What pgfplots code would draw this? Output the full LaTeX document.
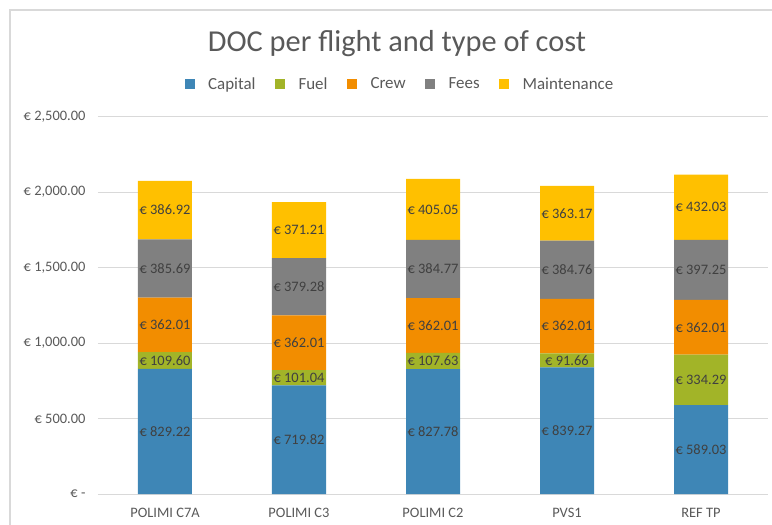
\documentclass[border=0pt]{standalone}
\usepackage{fontspec}
\setmainfont{Carlito}
\usepackage{pgfplots}
\pgfplotsset{compat=1.18}
\definecolor{cCap}{RGB}{62,134,182}
\definecolor{cFuel}{RGB}{162,180,40}
\definecolor{cCrew}{RGB}{242,141,0}
\definecolor{cFees}{RGB}{128,128,128}
\definecolor{cMaint}{RGB}{255,192,0}
\definecolor{gridc}{RGB}{217,217,217}
\definecolor{tickc}{RGB}{89,89,89}
\definecolor{labc}{RGB}{64,64,64}
\begin{document}
\begin{tikzpicture}
\useasboundingbox (-98bp,-31bp) rectangle (674bp,494bp);
\draw[gridc, line width=1.2bp] (-88bp,-31bp) -- (-88bp,484bp) -- (674bp,484bp);
\node[font=\fontsize{30.5}{34}\selectfont, text=tickc] at (299bp,450bp) {DOC per flight and type of cost};
\begin{axis}[
  at={(0,0)}, anchor=south west, scale only axis,
  width=670bp, height=377.5bp,
  ybar stacked, bar width=54bp,
  xmin=-0.5, xmax=4.5, ymin=0, ymax=2500,
  xtick={0,1,2,3,4},
  xticklabels={POLIMI C7A, POLIMI C3, POLIMI C2, PVS1, REF TP},
  ytick={0,500,1000,1500,2000,2500},
  yticklabels={€ -, € 500.00, {€ 1,000.00}, {€ 1,500.00}, {€ 2,000.00}, {€ 2,500.00}},
  ymajorgrids, grid style={draw=gridc, line width=0.9bp},
  axis line style={draw=none}, major tick length=0pt,
  tick label style={font=\fontsize{14.5}{17}\selectfont, text=tickc},
  yticklabel style={xshift=-9bp},
  xticklabel style={yshift=-11bp},
  point meta=explicit symbolic,
  nodes near coords={€ \pgfplotspointmeta},
  every node near coord/.append style={anchor=center, font=\fontsize{14.5}{17}\selectfont, text=labc},
  legend columns=5,
  legend style={draw=none, fill=none, at={(0.4507,1.086)}, anchor=center,
    font=\fontsize{17}{20}\selectfont, text=tickc,
    /tikz/every odd column/.append style={column sep=11.5bp},
    /tikz/every even column/.append style={column sep=17.5bp}},
  legend image code/.code={\fill[#1] (0bp,-5bp) rectangle (10bp,5bp);},
]
\addplot[fill=cCap, draw=none] coordinates {(0,829.22) [829.22] (1,719.82) [719.82] (2,827.78) [827.78] (3,839.27) [839.27] (4,589.03) [589.03]};
\addplot[fill=cFuel, draw=none] coordinates {(0,109.60) [109.60] (1,101.04) [101.04] (2,107.63) [107.63] (3,91.66) [91.66] (4,334.29) [334.29]};
\addplot[fill=cCrew, draw=none] coordinates {(0,362.01) [362.01] (1,362.01) [362.01] (2,362.01) [362.01] (3,362.01) [362.01] (4,362.01) [362.01]};
\addplot[fill=cFees, draw=none] coordinates {(0,385.69) [385.69] (1,379.28) [379.28] (2,384.77) [384.77] (3,384.76) [384.76] (4,397.25) [397.25]};
\addplot[fill=cMaint, draw=none] coordinates {(0,386.92) [386.92] (1,371.21) [371.21] (2,405.05) [405.05] (3,363.17) [363.17] (4,432.03) [432.03]};
\legend{Capital, Fuel, Crew, Fees, Maintenance}
\end{axis}
\end{tikzpicture}
\end{document}
